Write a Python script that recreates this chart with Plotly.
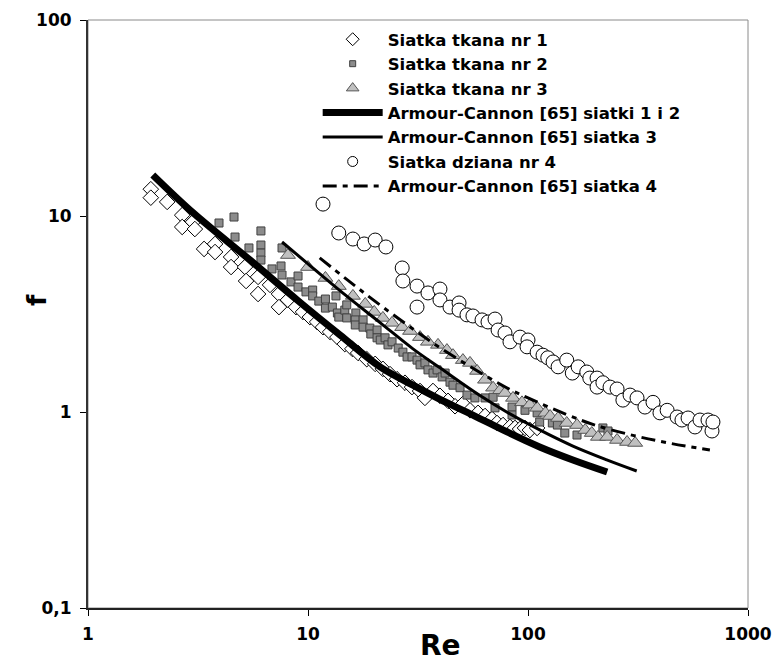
import plotly.graph_objects as go

# ---- data ----
re1 = [1.93,1.93,2.29,2.68,2.68,3.00,3.06,3.37,3.78,3.78,4.47,4.47,5.17,5.23,5.93,5.93,6.72,7.38,7.38,8.11,
       8.82,9.49,10.2,11.0,11.7,12.6,13.6,14.7,15.9,16.9,18.5,20.2,21.9,23.6,25.4,27.6,29.7,32.3,34.0,37.0,
       39.8,43.3,46.6,50.6,54.5,59.3,63.8,68.6,72.3,77.0,82.8,87.3,92.0,96.9,102,110]
f1 = [13.7,12.4,11.8,10.1,8.79,9.32,8.58,6.79,7.20,6.55,6.18,5.49,5.49,4.66,4.89,4.00,4.45,4.00,3.43,3.73,
      3.43,3.24,3.05,2.88,2.71,2.56,2.41,2.22,2.10,2.00,1.86,1.76,1.66,1.56,1.47,1.41,1.34,1.28,1.18,1.28,
      1.21,1.14,1.07,1.10,1.02,0.99,0.954,0.921,0.879,0.858,0.839,0.829,0.819,0.829,0.809,0.829]

re2 = [3.94,4.61,6.11,4.66,5.39,6.11,6.11,6.11,7.62,6.86,7.54,7.62,8.37,9.01,9.01,9.79,10.5,10.5,11.2,12.0,
       12.0,12.9,13.4,13.6,13.8,14.7,15.0,15.0,16.5,16.4,16.4,17.8,17.8,19.1,19.3,20.6,20.6,21.3,22.4,23.1,
       24.1,25.7,27.0,28.2,29.7,31.3,32.3,34.0,35.1,37.0,38.6,40.7,42.0,44.2,45.6,49.1,52.8,57.4,63.8,69.4,
       70.8,84.6,84.6,96.9,110,113,129,136,147,167,219,231]
f2 = [9.21,9.88,8.39,7.81,6.87,7.11,6.47,5.96,6.87,5.37,5.56,5.00,4.61,4.94,4.34,4.10,4.19,3.91,3.68,3.77,
      3.39,3.43,3.91,3.20,3.05,3.31,3.52,3.02,3.20,2.95,2.78,2.95,2.71,2.68,2.50,2.62,2.39,2.33,2.39,2.20,
      2.28,2.12,2.02,1.91,1.91,1.84,1.74,1.78,1.64,1.58,1.64,1.51,1.58,1.42,1.37,1.33,1.22,1.18,1.18,1.19,
      1.05,1.06,0.965,1.02,0.99,0.889,0.879,0.858,0.781,0.763,0.829,0.80]

re3 = [8.11,10.0,12.0,13.8,16.0,18.2,20.0,21.9,24.1,26.8,29.1,32.3,35.1,39.0,42.8,45.6,50.6,54.5,58.7,63.8,
       69.4,74.6,78.6,85.5,93.9,102,110,120,126,137,150,167,182,195,208,229,254,282,307]
f3 = [6.32,5.49,4.83,4.39,3.91,3.56,3.24,3.02,2.85,2.71,2.59,2.41,2.28,2.20,2.07,1.95,1.84,1.78,1.62,1.46,
      1.33,1.29,1.25,1.18,1.12,1.09,1.05,0.99,0.954,0.932,0.879,0.858,0.809,0.781,0.746,0.746,0.72,0.703,0.695]

re4 = [11.7,13.8,16.0,18.0,20.2,22.6,26.8,27.0,31.3,31.3,35.1,39.8,39.8,44.2,48.6,48.6,52.8,56.2,61.8,65.8,
       70.8,73.1,78.6,82.8,92.0,100,99.0,110,117,123,130,137,150,159,169,185,191,206,206,219,
       236,254,270,291,313,340,370,398,429,476,501,534,574,605,658,686,693]
f4 = [11.5,8.19,7.63,7.20,7.54,6.95,5.43,4.66,4.39,3.43,4.05,4.24,3.73,3.43,3.60,3.31,3.13,3.09,2.95,2.88,
      2.98,2.62,2.53,2.28,2.41,2.33,2.15,2.02,1.95,1.89,1.80,1.70,1.84,1.58,1.70,1.60,1.49,1.49,1.34,1.41,
      1.34,1.31,1.15,1.22,1.18,1.06,1.12,0.99,1.02,0.943,0.91,0.932,0.839,0.91,0.91,0.80,0.889]

ac12_re = [1.97,3,5.45,9,13.98,21.25,30,39.8,56.2,80.3,113,160,229]
ac12_f = [16.2,10.4,5.96,3.70,2.47,1.70,1.37,1.16,0.965,0.791,0.663,0.569,0.494]

ac3_re = [7.62,10,15,21.25,30,39.8,60,80,113,160,228,312]
ac3_f = [7.37,5.7,3.9,2.86,2.1,1.68,1.22,1.0,0.81,0.67,0.57,0.50]

ac4_re = [11.3,15,20,30,40,60,80,100,150,200,300,450,671]
ac4_f = [6.11,4.75,3.70,2.65,2.12,1.60,1.33,1.18,0.97,0.86,0.76,0.69,0.64]

names = ["Siatka tkana nr 1", "Siatka tkana nr 2", "Siatka tkana nr 3",
         "Armour-Cannon [65] siatki 1 i 2", "Armour-Cannon [65] siatka 3",
         "Siatka dziana nr 4", "Armour-Cannon [65] siatka 4"]

x_ticks = [1, 10, 100, 1000]
x_text = ["1", "10", "100", "1000"]
y_ticks = [0.1, 1, 10, 100]
y_text = ["0,1", "1", "10", "100"]

FONT = "DejaVu Sans, sans-serif"

# styles
m1 = dict(symbol="diamond", color="white", line=dict(color="black", width=1))
m2 = dict(symbol="square", color="#8c8c8c", line=dict(color="#404040", width=1))
m3 = dict(symbol="triangle-up", color="#c0c0c0", line=dict(color="#555555", width=1))
m4 = dict(symbol="circle", color="white", line=dict(color="black", width=1))
l12 = dict(color="black", width=7, shape="spline")
l3 = dict(color="black", width=3, shape="spline")
l4 = dict(color="black", width=3, shape="spline", dash="14px,6px,5px,6px")

fig = go.Figure()
# data traces (no legend)
fig.add_trace(go.Scatter(x=re1, y=f1, mode="markers", showlegend=False, marker=dict(size=12, **m1)))
fig.add_trace(go.Scatter(x=re2, y=f2, mode="markers", showlegend=False, marker=dict(size=8, **m2)))
fig.add_trace(go.Scatter(x=re3, y=f3, mode="markers", showlegend=False, marker=dict(size=13, **m3)))
fig.add_trace(go.Scatter(x=ac12_re, y=ac12_f, mode="lines", showlegend=False, line=l12))
fig.add_trace(go.Scatter(x=ac3_re, y=ac3_f, mode="lines", showlegend=False, line=l3))
fig.add_trace(go.Scatter(x=re4, y=f4, mode="markers", showlegend=False, marker=dict(size=14, **m4)))
fig.add_trace(go.Scatter(x=ac4_re, y=ac4_f, mode="lines", showlegend=False, line=l4))

# legend entries (smaller symbols, like the reference)
fig.add_trace(go.Scatter(x=[None], y=[None], mode="markers", name=names[0], marker=dict(size=10, **m1)))
fig.add_trace(go.Scatter(x=[None], y=[None], mode="markers", name=names[1], marker=dict(size=6, **m2)))
fig.add_trace(go.Scatter(x=[None], y=[None], mode="markers", name=names[2], marker=dict(size=11, **m3)))
fig.add_trace(go.Scatter(x=[None], y=[None], mode="lines", name=names[3], line=l12))
fig.add_trace(go.Scatter(x=[None], y=[None], mode="lines", name=names[4], line=l3))
fig.add_trace(go.Scatter(x=[None], y=[None], mode="markers", name=names[5], marker=dict(size=10, **m4)))
fig.add_trace(go.Scatter(x=[None], y=[None], mode="lines", name=names[6], line=l4))

tickfont = dict(family=FONT, size=17, color="black", weight="bold")

fig.update_layout(
    width=776, height=662,
    margin=dict(l=88, r=28, t=20, b=54, autoexpand=False),
    paper_bgcolor="white", plot_bgcolor="white",
    font=dict(family=FONT, size=17, color="black", weight="bold"),
    showlegend=True,
    legend=dict(x=0.348, y=0.9966, xanchor="left", yanchor="top",
                bgcolor="rgba(0,0,0,0)", borderwidth=0,
                font=dict(family=FONT, size=16.5, color="black", weight="bold"),
                itemwidth=60, tracegroupgap=0, itemsizing="trace"),
    xaxis=dict(type="log", range=[0, 3], tickvals=x_ticks, ticktext=x_text,
               ticks="outside", ticklen=6, tickcolor="black", tickwidth=1,
               showline=True, linecolor="#222222", linewidth=2, automargin=False,
               showgrid=False, zeroline=False, ticklabelstandoff=4,
               tickfont=tickfont),
    yaxis=dict(type="log", range=[-1, 2], tickvals=y_ticks, ticktext=y_text,
               ticks="outside", ticklen=6, tickcolor="black", tickwidth=1,
               showline=True, linecolor="#333333", linewidth=2, automargin=False,
               showgrid=False, zeroline=False, ticklabelstandoff=5,
               tickfont=tickfont),
    shapes=[dict(type="rect", xref="paper", yref="paper", x0=0, x1=1, y0=0, y1=1,
                 line=dict(color="#8a8a8a", width=1), layer="below")],
    annotations=[
        dict(text="Re", xref="paper", yref="paper", x=(440 - 88) / 660, y=-(645 - 608) / 588,
             xanchor="center", yanchor="middle", showarrow=False,
             font=dict(family=FONT, size=28, color="black", weight="bold")),
        dict(text="f", xref="paper", yref="paper", x=-(88 - 37) / 660, y=(608 - 300) / 588,
             xanchor="center", yanchor="middle", showarrow=False, textangle=-90,
             font=dict(family=FONT, size=26, color="black", weight="bold")),
    ],
)

fig.write_html("out.html")
